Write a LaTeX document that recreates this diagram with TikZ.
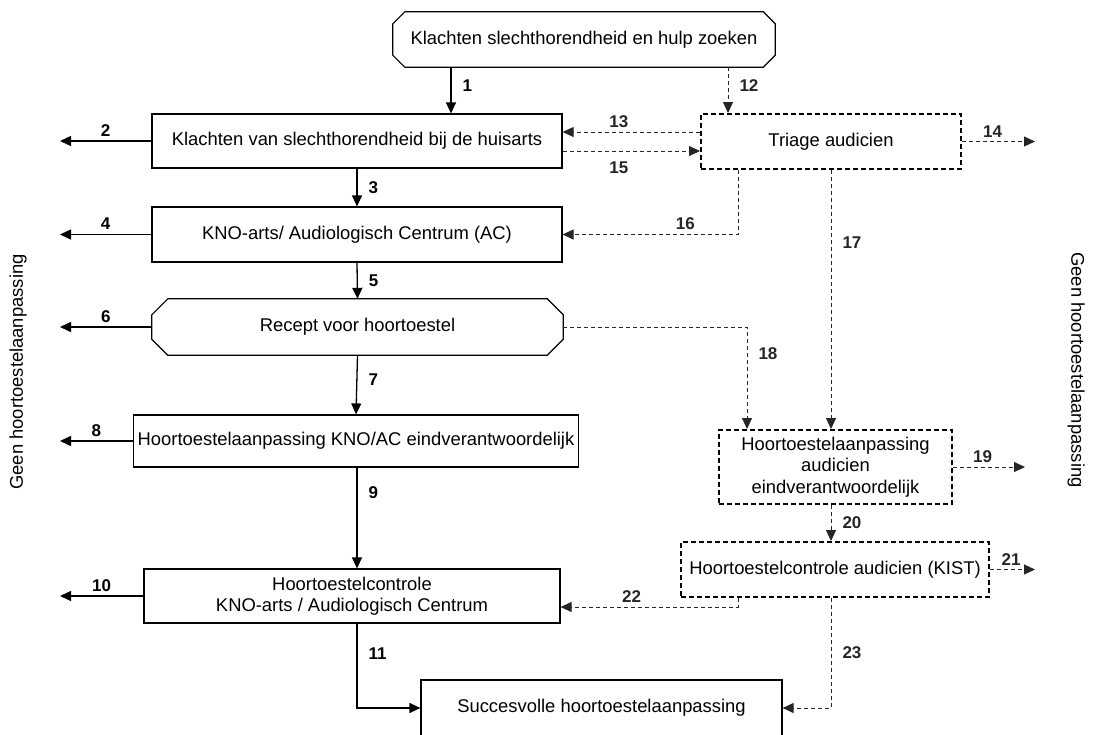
\documentclass[tikz,border=0pt]{standalone}
\usepackage{fontspec}
\setmainfont{Liberation Sans}
\usetikzlibrary{arrows.meta}

% octagon outline round a (undrawn) node: #1 node, #2 size of the cut corners
\newcommand{\chamferbox}[2]{%
  \draw[line width=1.2pt] ([xshift=#2]#1.north west) -- ([xshift=-#2]#1.north east)
    -- ([yshift=-#2]#1.north east) -- ([yshift=#2]#1.south east)
    -- ([xshift=-#2]#1.south east) -- ([xshift=#2]#1.south west)
    -- ([yshift=#2]#1.south west) -- ([yshift=-#2]#1.north west) -- cycle;}

\begin{document}
\begin{tikzpicture}[x=1pt,y=-1pt,>={Triangle[length=11pt,width=10pt]},
  box/.style={draw,rectangle,line width=1.2pt,align=center,inner sep=0pt,
  font=\fontsize{18.4}{21.5}\selectfont},
  dbox/.style={box,line width=2pt,dash pattern=on 5pt off 3pt},
  octa/.style={rectangle,align=center,inner sep=0pt,
  font=\fontsize{18.4}{21.5}\selectfont},
  num/.style={font=\fontsize{17}{20}\selectfont\bfseries,inner sep=2pt},
  flow/.style={->,line width=1.3pt},
  dflow/.style={->,line width=1pt,dash pattern=on 4pt off 3pt,black!85},
  side/.style={font=\fontsize{18.4}{21.5}\selectfont}]
  \clip (0,0) rectangle (1094,734);

  % columns and rows of the connectors
  \coordinate (geenL) at (60,0);
  \coordinate (geenR) at (1035,0);
  \coordinate (x1) at (451,0);
  \coordinate (x9) at (357,0);
  \coordinate (x12) at (728,0);
  \coordinate (x16) at (738,0);
  \coordinate (x17) at (831,0);
  \coordinate (x18) at (747,0);
  \coordinate (y13) at (0,132);
  \coordinate (y15) at (0,151);
  \coordinate (y22) at (0,607);

  % left column: huisarts / KNO
  \node[octa,minimum width=382pt,minimum height=55pt] (start) at (584,39.5)
    {Klachten slechthorendheid en hulp zoeken};
  \chamferbox{start}{12pt}
  \node[box,minimum width=410pt,minimum height=54pt] (huisarts) at (357,141)
    {Klachten van slechthorendheid bij de huisarts};
  \node[box,minimum width=410pt,minimum height=55pt] (kno) at (357,234.5)
    {KNO-arts/ Audiologisch Centrum (AC)};
  \node[octa,minimum width=411pt,minimum height=56pt] (recept) at (357.5,327)
    {Recept voor hoortoestel};
  \chamferbox{recept}{16pt}
  \node[box,minimum width=445pt,minimum height=52pt] (knotune) at (356,441)
    {Hoortoestelaanpassing KNO/AC eindverantwoordelijk};
  \node[box,minimum width=416pt,minimum height=54pt] (knoctrl) at (352,596)
    {Hoortoestelcontrole\\KNO-arts / Audiologisch Centrum};
  \node[box,minimum width=361pt,minimum height=56pt] (succes) at (601.5,708)
    {Succesvolle hoortoestelaanpassing};

  % right column: audicien
  \node[dbox,minimum width=260pt,minimum height=55pt] (triage) at (831,141.5)
    {Triage audicien};
  \node[dbox,minimum width=233pt,minimum height=74pt] (audtune) at (835.5,467)
    {Hoortoestelaanpassing\\audicien\\eindverantwoordelijk};
  \node[dbox,minimum width=308pt,minimum height=55pt] (audctrl) at (835,569.5)
    {Hoortoestelcontrole audicien (KIST)};

  \node[side,rotate=90] (geenlinks) at (18,372) {Geen hoortoestelaanpassing};
  \node[side,rotate=-90] (geenrechts) at (1076,370) {Geen hoortoestelaanpassing};

  % solid route
  \draw[flow] (start.south -| x1) -- node[num,right=9pt,pos=0.4] (l1) {1} (huisarts.north -| x1);
  \draw[flow] (huisarts.west) -- node[num,above=2pt] (l2) {2} (huisarts.west -| geenL);
  \draw[flow] (huisarts.south) -- node[num,right=9pt] (l3) {3} (kno.north);
  \draw[flow] (kno.west) -- node[num,above=2pt] (l4) {4} (kno.west -| geenL);
  \draw[flow] (kno.south) -- node[num,right=9pt] (l5) {5} (recept.north);
  \draw[flow] (recept.west) -- node[num,above=2pt] (l6) {6} (recept.west -| geenL);
  \draw[flow] (recept.south) -- node[num,right=9pt,pos=0.42] (l7) {7} (knotune.north);
  \draw[flow] (knotune.west) -- node[num,above=2pt] (l8) {8} (knotune.west -| geenL);
  \draw[flow] (knotune.south -| x9) -- node[num,right=9pt,pos=0.25] (l9) {9} (knoctrl.north -| x9);
  \draw[flow] (knoctrl.west) -- node[num,above=2pt] (l10) {10} (knoctrl.west -| geenL);
  \draw[flow] (knoctrl.south -| x9) |- node[num,right=9pt,pos=0.18] (l11) {11} (succes.west);

  % dashed route
  \draw[dflow] (start.south -| x12) -- node[num,right=9pt,pos=0.4] (l12) {12} (triage.north -| x12);
  \draw[dflow] (triage.west |- y13) -- node[num,above=2pt,pos=0.59] (l13) {13} (huisarts.east |- y13);
  \draw[dflow] (triage.east) -- node[num,above=2pt,pos=0.42] (l14) {14} (triage.east -| geenR);
  \draw[dflow] (huisarts.east |- y15) -- node[num,below=8pt,pos=0.41] (l15) {15} (triage.west |- y15);
  \draw[dflow] (triage.south -| x16) |- node[num,above=2pt,pos=0.65] (l16) {16} (kno.east);
  \draw[dflow] (triage.south -| x17) -- node[num,right=9pt,pos=0.28] (l17) {17} (audtune.north -| x17);
  \draw[dflow] (recept.east) -| node[num,right=9pt,pos=0.63] (l18) {18} (audtune.north -| x18);
  \draw[dflow] (audtune.east) -- node[num,above=2pt,pos=0.41] (l19) {19}
    ([xshift=-10pt]audtune.east -| geenR);
  \draw[dflow] (audtune.south -| x17) -- node[num,right=9pt] (l20) {20} (audctrl.north -| x17);
  \draw[dflow] (audctrl.east) -- node[num,above=2pt,pos=0.47] (l21) {21} (audctrl.east -| geenR);
  \draw[dflow] (audctrl.south -| x16) |- node[num,above=2pt,pos=0.8] (l22) {22} (knoctrl.east |- y22);
  \draw[dflow] (audctrl.south -| x17) |- node[num,right=9pt,pos=0.25] (l23) {23} (succes.east);
\end{tikzpicture}
\end{document}
